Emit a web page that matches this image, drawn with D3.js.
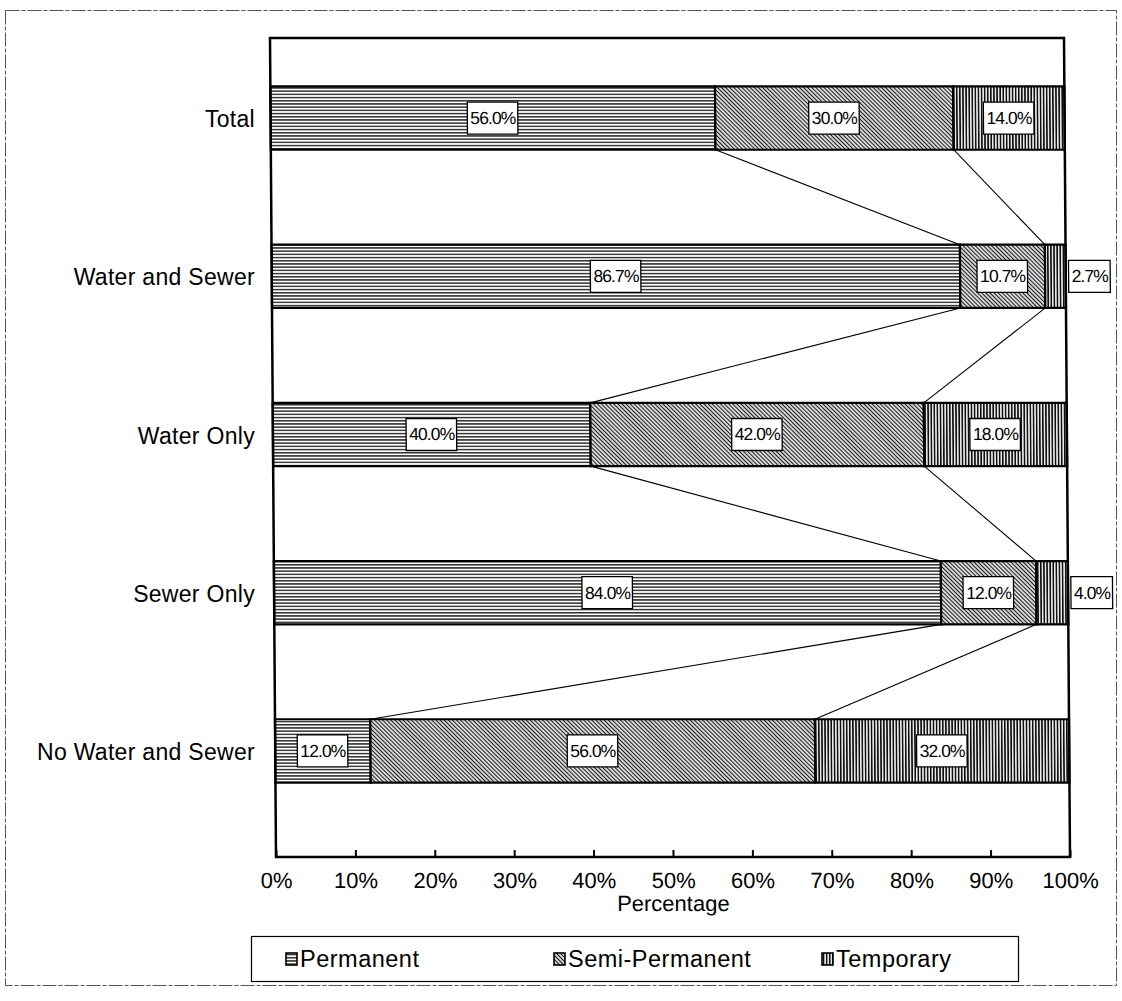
<!DOCTYPE html>
<html>
<head>
<meta charset="utf-8">
<script src="https://cdn.jsdelivr.net/npm/d3@7/dist/d3.min.js"></script>
<style>
  body { margin: 0; background: #fff; }
  svg text { font-family: "Liberation Sans", Arial, sans-serif; fill: #000; }
</style>
</head>
<body>
<svg id="chart" width="1122" height="1001"></svg>
<script>
// Dwelling structure type by service connection (percent of each group)
const categories = ["Total", "Water and Sewer", "Water Only", "Sewer Only", "No Water and Sewer"];
const seriesNames = ["Permanent", "Semi-Permanent", "Temporary"];
const permanent = [56.0, 86.7, 40.0, 84.0, 12.0];
const semiPermanent = [30.0, 10.7, 42.0, 12.0, 56.0];
const temporary = [14.0, 2.7, 18.0, 4.0, 32.0];
const tickValues = [0, 10, 20, 30, 40, 50, 60, 70, 80, 90, 100];
const axisTitle = "Percentage";

const svg = d3.select("#chart");

// layout
const plot = { left: 270, right: 1064, top: 38, bottom: 857 };
const skewDeg = 0.42;

const rows = categories.map((c, i) => ({
  category: c,
  values: [permanent[i], semiPermanent[i], temporary[i]]
}));

const x = d3.scaleLinear().domain([0, 100]).range([plot.left, plot.right]).clamp(true);
const y = d3.scaleBand().domain(categories).range([39, 830]).paddingInner(0.6).paddingOuter(0.3);

// fill patterns for the three series
const defs = svg.append("defs");
const pPerm = defs.append("pattern").attr("id", "pat-perm")
  .attr("patternUnits", "userSpaceOnUse").attr("width", 6).attr("height", 3.2);
pPerm.append("rect").attr("width", 6).attr("height", 3.2).attr("fill", "#fff");
pPerm.append("rect").attr("y", 0.9).attr("width", 6).attr("height", 1.3).attr("fill", "#111");

const pSemi = defs.append("pattern").attr("id", "pat-semi")
  .attr("patternUnits", "userSpaceOnUse").attr("width", 6).attr("height", 2.9)
  .attr("patternTransform", "rotate(45)");
pSemi.append("rect").attr("width", 6).attr("height", 2.9).attr("fill", "#fff");
pSemi.append("rect").attr("y", 0.8).attr("width", 6).attr("height", 1.3).attr("fill", "#1a1a1a");

const pTemp = defs.append("pattern").attr("id", "pat-temp")
  .attr("patternUnits", "userSpaceOnUse").attr("width", 3.1).attr("height", 6);
pTemp.append("rect").attr("width", 3.1).attr("height", 6).attr("fill", "#fff");
pTemp.append("rect").attr("x", 0.7).attr("width", 1.7).attr("height", 6).attr("fill", "#111");

const fills = ["url(#pat-perm)", "url(#pat-semi)", "url(#pat-temp)"];

// outer border of the figure
svg.append("rect")
  .attr("x", 5.5).attr("y", 10.5).attr("width", 1111).attr("height", 975)
  .attr("fill", "none").attr("stroke", "#555").attr("stroke-width", 1)
  .attr("stroke-dasharray", "14 2 4 2");

// plot group, slightly sheared
const g = svg.append("g")
  .attr("transform", `translate(0,${plot.top}) skewX(${skewDeg}) translate(0,${-plot.top})`);

// stacked segments
const stacked = rows.map(r => {
  let acc = 0;
  return r.values.map((v, k) => {
    const s = { category: r.category, k, v, x0: acc, x1: acc + v };
    acc += v;
    return s;
  });
});

// series lines between consecutive bars
for (let i = 0; i < rows.length - 1; i++) {
  [0, 1].forEach(k => {
    const a = stacked[i][k], b = stacked[i + 1][k];
    g.append("line")
      .attr("x1", x(a.x1)).attr("y1", y(a.category) + y.bandwidth())
      .attr("x2", x(b.x1)).attr("y2", y(b.category))
      .attr("stroke", "#000").attr("stroke-width", 1.1);
  });
}

const segs = stacked.flat();
g.selectAll("rect.seg").data(segs).join("rect")
  .attr("class", "seg")
  .attr("x", d => x(d.x0))
  .attr("y", d => y(d.category))
  .attr("width", d => x(d.x1) - x(d.x0))
  .attr("height", y.bandwidth())
  .attr("fill", d => fills[d.k])
  .attr("stroke", "#000").attr("stroke-width", 2.2);

// plot frame
g.append("rect")
  .attr("x", plot.left).attr("y", plot.top)
  .attr("width", plot.right - plot.left).attr("height", plot.bottom - plot.top)
  .attr("fill", "none").attr("stroke", "#000").attr("stroke-width", 2.5);

// value labels in boxes
const fmt = d => d3.format(".1f")(d) + "%";
const lab = g.selectAll("g.lab").data(segs).join("g").attr("class", "lab");
lab.append("text")
  .attr("x", d => d.v < 5 ? plot.right + 24 : x((d.x0 + d.x1) / 2))
  .attr("y", d => y(d.category) + y.bandwidth() / 2)
  .attr("text-anchor", "middle").attr("dominant-baseline", "central")
  .attr("font-size", 17.5).attr("letter-spacing", -0.9)
  .text(d => fmt(d.v))
  .each(function () {
    const bb = this.getBBox();
    d3.select(this.parentNode).insert("rect", "text")
      .attr("x", bb.x - 3).attr("y", bb.y - 6)
      .attr("width", bb.width + 5).attr("height", bb.height + 12)
      .attr("fill", "#fff").attr("stroke", "#000").attr("stroke-width", 1.3);
  });

// x axis with inward ticks
const axis = d3.axisBottom(x).tickValues(tickValues)
  .tickFormat(d => d + "%").tickSizeInner(-7).tickSizeOuter(0).tickPadding(15);
const ax = g.append("g").attr("transform", `translate(0,${plot.bottom})`).call(axis);
ax.select(".domain").remove();
ax.selectAll(".tick line").attr("stroke", "#000").attr("stroke-width", 2);
ax.selectAll(".tick text").attr("font-size", 22).attr("font-family", "Liberation Sans, Arial, sans-serif");

g.append("text")
  .attr("x", (plot.left + plot.right) / 2).attr("y", 911)
  .attr("text-anchor", "middle").attr("font-size", 22)
  .text(axisTitle);

// category labels
svg.selectAll("text.cat").data(categories).join("text")
  .attr("class", "cat")
  .attr("x", 255).attr("y", d => y(d) + y.bandwidth() / 2 + 1)
  .attr("text-anchor", "end").attr("dominant-baseline", "central")
  .attr("font-size", 23).attr("letter-spacing", 0.3)
  .text(d => d);

// legend
const legend = svg.append("g");
legend.append("rect")
  .attr("x", 251.5).attr("y", 936.5).attr("width", 767).attr("height", 45)
  .attr("fill", "#fff").attr("stroke", "#000").attr("stroke-width", 1.2);
const legendX = [286, 554, 822];
seriesNames.forEach((name, k) => {
  const lg = legend.append("g").attr("transform", `translate(${legendX[k]},953)`);
  lg.append("rect").attr("width", 11).attr("height", 12)
    .attr("fill", fills[k]).attr("stroke", "#000").attr("stroke-width", 1.6);
  lg.append("text").attr("x", 14).attr("y", 14).attr("font-size", 23.5).attr("letter-spacing", 0.5).text(name);
});
</script>
</body>
</html>
